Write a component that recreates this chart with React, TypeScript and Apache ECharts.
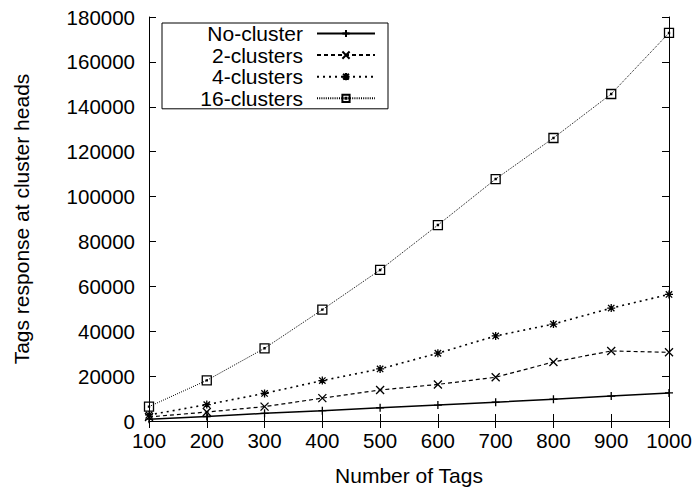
import React, { useEffect, useRef } from "react";
import * as echarts from "echarts";

const tags = [100, 200, 300, 400, 500, 600, 700, 800, 900, 1000];
const noCluster = [800, 2000, 3400, 4600, 5900, 7100, 8400, 9700, 11100, 12500];
const clusters2 = [1800, 4000, 6400, 10200, 13800, 16300, 19500, 26300, 31200, 30600];
const clusters4 = [2700, 7300, 12300, 18000, 23200, 30200, 37900, 43200, 50300, 56400];
const clusters16 = [6400, 18100, 32400, 49600, 67300, 87300, 107800, 126100, 145700, 172900];
const seriesNames = ["No-cluster", "2-clusters", "4-clusters", "16-clusters"];

const FONT = "'Liberation Sans', Arial, Helvetica, sans-serif";

const SYM_PLUS = "path://M0 5H10M5 0V10";
const SYM_CROSS = "path://M0 0L10 10M10 0L0 10";
const SYM_STAR = "path://M0 5H10M5 0V10M1 1L9 9M9 1L1 9";
const SYM_BOX = "path://M0 0H10V10H0Z M4.4 4.4H5.6V5.6H4.4Z";

function pairs(ys: number[]) {
  return tags.map((x, i) => [x, ys[i]]);
}

export default function App() {
  const ref = useRef<HTMLDivElement>(null);
  useEffect(() => {
    if (!ref.current) return;
    const chart = echarts.init(ref.current, undefined, { renderer: "svg" });
    const axisLine = { show: true, lineStyle: { color: "#000", width: 1 } };
    const tick = { show: true, inside: true, length: 7, lineStyle: { color: "#000", width: 1 } };
    const labelStyle = {
      color: "#000",
      fontSize: 20.5,
      fontFamily: FONT,
      formatter: (v: number) => String(v),
    };
    const mk = (
      name: string,
      data: number[],
      symbol: string,
      size: number,
      lineType: any,
      lineWidth: number
    ) => ({
      name,
      type: "line",
      data: pairs(data),
      symbol,
      symbolSize: size,
      showSymbol: true,
      itemStyle: { color: "rgba(0,0,0,0)", borderColor: "#000", borderWidth: 1.3 },
      lineStyle: { color: "#000", width: lineWidth, type: lineType },
      emphasis: { disabled: true },
    });
    chart.setOption({
      animation: false,
      backgroundColor: "#fff",
      grid: { left: 149, right: 30, top: 17, bottom: 70 },
      legend: {
        show: true,
        orient: "vertical",
        left: 162,
        top: 23,
        align: "right",
        itemWidth: 58,
        itemHeight: 9,
        itemGap: 0.6,
        padding: [0, 12, 0, 7],
        borderColor: "#000",
        borderWidth: 1,
        backgroundColor: "#fff",
        data: seriesNames,
        textStyle: {
          color: "#000",
          fontSize: 21,
          fontFamily: FONT,
          width: 134,
          align: "right",
          lineHeight: 19,
          padding: [0, 9, 0, 0],
        },
      },
      xAxis: [
        {
          type: "value",
          min: 100,
          max: 1000,
          interval: 100,
          name: "Number of Tags",
          nameLocation: "middle",
          nameGap: 44,
          nameTextStyle: { color: "#000", fontSize: 21, fontFamily: FONT },
          axisLine,
          axisTick: tick,
          axisLabel: { ...labelStyle, margin: 9 },
          splitLine: { show: false },
        },
        {
          type: "value",
          position: "top",
          min: 100,
          max: 1000,
          interval: 100,
          axisLine,
          axisTick: tick,
          axisLabel: { show: false },
          splitLine: { show: false },
        },
      ],
      yAxis: [
        {
          type: "value",
          min: 0,
          max: 180000,
          interval: 20000,
          name: "Tags response at cluster heads",
          nameLocation: "middle",
          nameGap: 117,
          nameTextStyle: { color: "#000", fontSize: 21, fontFamily: FONT },
          axisLine,
          axisTick: tick,
          axisLabel: { ...labelStyle, margin: 14 },
          splitLine: { show: false },
        },
        {
          type: "value",
          position: "right",
          min: 0,
          max: 180000,
          interval: 20000,
          axisLine,
          axisTick: tick,
          axisLabel: { show: false },
          splitLine: { show: false },
        },
      ],
      series: [
        mk(seriesNames[0], noCluster, SYM_PLUS, 8, "solid", 1.5),
        mk(seriesNames[1], clusters2, SYM_CROSS, 8, [4, 3], 1.2),
        mk(seriesNames[2], clusters4, SYM_STAR, 8, [2, 4], 1.6),
        mk(seriesNames[3], clusters16, SYM_BOX, 9, [1, 1.2], 1),
      ],
    });
    return () => chart.dispose();
  }, []);
  return (
    <div
      ref={ref}
      style={{ position: "fixed", left: 0, top: 0, width: 699, height: 491, background: "#fff" }}
    />
  );
}
